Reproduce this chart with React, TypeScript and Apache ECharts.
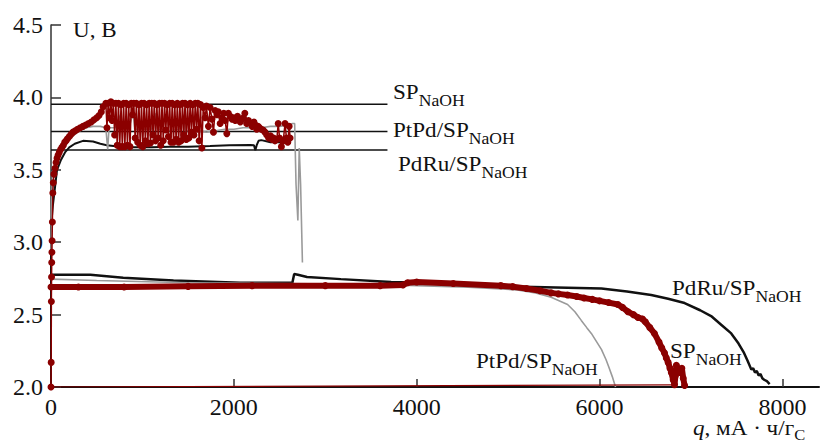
import React, { useEffect, useRef } from "react";
import * as echarts from "echarts";

// q (mA·h/g) , U (V)
const spCharge: number[][] = [
  [0, 2.0], [2, 2.17], [4, 2.59], [6, 2.76], [8, 2.86], [10, 2.93], [12, 3.01], [15, 3.14], [20, 3.34],
  [25, 3.41], [32, 3.47], [44, 3.51], [55, 3.55], [66, 3.58], [77, 3.6], [90, 3.62], [105, 3.64],
  [120, 3.655], [135, 3.67], [150, 3.69], [165, 3.7], [180, 3.715], [200, 3.73], [220, 3.745],
  [241, 3.76], [265, 3.77], [290, 3.78], [320, 3.79], [350, 3.8], [380, 3.81], [410, 3.82], [440, 3.83],
  [470, 3.845], [500, 3.86], [525, 3.875], [550, 3.9], [570, 3.935],
  [600, 3.96], [612, 3.79], [625, 3.96], [640, 3.86], [655, 3.97], [668, 3.84], [682, 3.96], [696, 3.74],
  [710, 3.96], [724, 3.67], [738, 3.96], [752, 3.66], [766, 3.95], [780, 3.66], [794, 3.96], [808, 3.66],
  [822, 3.96], [836, 3.67], [850, 3.95], [864, 3.66], [878, 3.96], [892, 3.88], [906, 3.96], [920, 3.72],
  [934, 3.96], [948, 3.69], [962, 3.95], [976, 3.67], [990, 3.96], [1004, 3.66], [1018, 3.96], [1032, 3.7],
  [1046, 3.95], [1060, 3.68], [1074, 3.96], [1088, 3.685], [1102, 3.96], [1116, 3.74], [1130, 3.96],
  [1144, 3.7], [1158, 3.95], [1172, 3.72], [1186, 3.96], [1200, 3.67], [1214, 3.96], [1228, 3.7],
  [1242, 3.96], [1256, 3.775], [1270, 3.95], [1284, 3.73], [1298, 3.96], [1312, 3.69], [1326, 3.96],
  [1340, 3.69], [1354, 3.95], [1368, 3.71], [1382, 3.96], [1396, 3.69], [1410, 3.95], [1424, 3.7],
  [1438, 3.96], [1452, 3.74], [1466, 3.96], [1480, 3.71], [1494, 3.95], [1508, 3.72], [1522, 3.96],
  [1536, 3.76], [1550, 3.95], [1564, 3.74], [1578, 3.96], [1592, 3.78], [1606, 3.96], [1620, 3.7],
  [1635, 3.95], [1650, 3.65], [1665, 3.93], [1686, 3.86], [1700, 3.94], [1722, 3.8], [1740, 3.93],
  [1760, 3.85], [1777, 3.76], [1795, 3.91], [1815, 3.88], [1830, 3.9], [1850, 3.82], [1870, 3.86],
  [1890, 3.89], [1905, 3.84], [1923, 3.75], [1940, 3.89], [1960, 3.87], [1980, 3.85], [1996, 3.86],
  [2015, 3.84], [2040, 3.87], [2070, 3.83], [2090, 3.85], [2105, 3.86], [2120, 3.89], [2140, 3.82],
  [2160, 3.84], [2180, 3.82], [2200, 3.8], [2220, 3.83], [2235, 3.81], [2250, 3.78], [2265, 3.8],
  [2280, 3.79], [2300, 3.78], [2320, 3.775], [2340, 3.76], [2360, 3.74], [2380, 3.72], [2400, 3.735],
  [2420, 3.71], [2435, 3.72], [2450, 3.7], [2470, 3.71], [2485, 3.82], [2500, 3.72], [2520, 3.66],
  [2540, 3.7], [2560, 3.82], [2575, 3.72], [2590, 3.69], [2605, 3.8], [2615, 3.72],
];

const spDischarge: number[][] = [
  [0, 2.69], [300, 2.69], [800, 2.69], [1500, 2.695], [2200, 2.7], [3000, 2.7], [3600, 2.7], [3850, 2.705],
  [3900, 2.72], [4000, 2.725], [4400, 2.715], [4920, 2.7], [5050, 2.693], [5200, 2.68], [5350, 2.665],
  [5470, 2.65], [5550, 2.643], [5650, 2.635], [5750, 2.625], [5830, 2.615], [5920, 2.605], [6000, 2.595],
  [6100, 2.583], [6200, 2.57], [6250, 2.55], [6310, 2.52], [6370, 2.5], [6420, 2.48], [6470, 2.47],
  [6500, 2.45], [6550, 2.41], [6600, 2.37], [6650, 2.31], [6680, 2.27], [6710, 2.235], [6730, 2.2],
  [6750, 2.17], [6770, 2.13], [6785, 2.1], [6805, 2.05], [6820, 2.015], [6830, 2.08], [6840, 2.15],
  [6860, 2.12], [6880, 2.1], [6900, 2.13], [6915, 2.06], [6930, 2.01],
];

const spReturn: number[][] = [[6820, 2.015], [3000, 2.006], [0, 2.0]];

const ptCharge: number[][] = [
  [0, 2.95], [5, 3.2], [15, 3.4], [40, 3.52], [80, 3.6], [120, 3.65], [175, 3.69], [250, 3.74],
  [318, 3.77], [380, 3.79], [460, 3.8], [540, 3.8], [600, 3.79], [620, 3.64], [635, 3.79], [700, 3.79],
  [760, 3.88], [775, 3.79], [850, 3.78], [900, 3.9], [915, 3.78], [1000, 3.78], [1100, 3.78],
  [1150, 3.89], [1165, 3.78], [1300, 3.77], [1400, 3.78], [1450, 3.88], [1465, 3.77], [1600, 3.77],
  [1700, 3.76], [1800, 3.77], [1900, 3.78], [2000, 3.78], [2100, 3.79], [2200, 3.79], [2300, 3.79],
  [2400, 3.8], [2500, 3.8], [2600, 3.81], [2640, 3.82], [2665, 3.82], [2680, 3.4], [2700, 3.15],
  [2715, 3.65], [2730, 3.4], [2750, 2.86],
];

const ptDischarge: number[][] = [
  [0, 2.745], [500, 2.735], [1500, 2.72], [2500, 2.715], [3500, 2.71], [4000, 2.7], [4560, 2.69],
  [5100, 2.67], [5300, 2.65], [5470, 2.62], [5650, 2.57], [5730, 2.52], [5800, 2.46], [5860, 2.41],
  [5910, 2.37], [5970, 2.31], [6020, 2.26], [6070, 2.19], [6100, 2.14], [6140, 2.07], [6160, 2.03],
  [6175, 2.0],
];

const pdCharge: number[][] = [
  [0, 2.0], [0, 3.1], [20, 3.25], [44, 3.38], [66, 3.5], [110, 3.57], [153, 3.62], [200, 3.655],
  [260, 3.68], [350, 3.7], [460, 3.695], [540, 3.68], [610, 3.67], [756, 3.66], [900, 3.655],
  [1100, 3.655], [1300, 3.66], [1500, 3.66], [1740, 3.665], [1950, 3.67], [2180, 3.672], [2220, 3.67],
  [2235, 3.635], [2250, 3.67], [2270, 3.7], [2300, 3.705], [2400, 3.69], [2500, 3.69], [2620, 3.685],
];

const pdDischarge: number[][] = [
  [0, 2.775], [430, 2.775], [790, 2.755], [1340, 2.735], [2070, 2.72], [2640, 2.72], [2660, 2.78],
  [2700, 2.775], [2800, 2.76], [3170, 2.745], [3720, 2.725], [4260, 2.72], [4560, 2.7], [5280, 2.69],
  [6020, 2.68], [6300, 2.66], [6565, 2.635], [6750, 2.61], [6930, 2.58], [7100, 2.53], [7220, 2.49],
  [7330, 2.43], [7440, 2.37], [7520, 2.3], [7580, 2.235], [7620, 2.18], [7660, 2.12], [7680, 2.13],
  [7700, 2.1], [7720, 2.11], [7740, 2.08], [7760, 2.09], [7780, 2.06], [7800, 2.05], [7830, 2.04],
  [7860, 2.02],
];

// horizontal reference levels (V) and their extent (q)
const refLevels: number[] = [3.953, 3.764, 3.637];
const refExtent: number[] = [0, 3680];

const xTicks = { min: 0, max: 8400, interval: 2000 };
const yTicks = { min: 2.0, max: 4.5, interval: 0.5 };

const FONT = '"Liberation Serif", "Times New Roman", serif';
const RED = "#8B0000";
const GRAY = "#9a9a9a";
const BLACK = "#111111";
const SX = 1.1;

type Part = { t: string; sub?: boolean; italic?: boolean };

function measure(text: string, font: string): number {
  const c = document.createElement("canvas").getContext("2d");
  if (!c) return text.length * 10;
  c.font = font;
  return c.measureText(text).width;
}

function label(x: number, baseline: number, parts: Part[], size = 21, subSize = 16, subDy = 7): any[] {
  const els: any[] = [];
  let cx = x;
  for (const p of parts) {
    const fs = p.sub ? subSize : size;
    const base = p.sub ? baseline + subDy : baseline;
    const style = p.italic ? "italic" : "normal";
    const w = measure(p.t, `${style} ${fs}px ${FONT}`);
    els.push({
      type: "text",
      x: cx,
      y: base - 0.3375 * fs,
      scaleX: SX,
      style: {
        text: p.t,
        fontFamily: FONT,
        fontSize: fs,
        fontStyle: style,
        fill: BLACK,
        align: "left",
        verticalAlign: "middle",
      },
    });
    cx += w * SX;
  }
  return els;
}

export default function App() {
  const ref = useRef<HTMLDivElement>(null);
  useEffect(() => {
    document.body.style.margin = "0";
    if (!ref.current) return;
    const chart = echarts.init(ref.current, null, { renderer: "svg" });

    const line = (name: string, data: number[][], color: string, width: number, extra: any = {}) => ({
      name,
      type: "line",
      data,
      lineStyle: { color, width },
      itemStyle: { color },
      symbol: "none",
      silent: true,
      ...extra,
    });

    const graphics: any[] = [
      ...label(73, 37, [{ t: "U, B" }]),
      ...label(393, 99, [{ t: "SP" }, { t: "NaOH", sub: true }]),
      ...label(393, 137, [{ t: "PtPd/SP" }, { t: "NaOH", sub: true }]),
      ...label(398, 171, [{ t: "PdRu/SP" }, { t: "NaOH", sub: true }]),
      ...label(672, 295, [{ t: "PdRu/SP" }, { t: "NaOH", sub: true }]),
      ...label(670, 358, [{ t: "SP" }, { t: "NaOH", sub: true }]),
      ...label(476, 368, [{ t: "PtPd/SP" }, { t: "NaOH", sub: true }]),
      ...label(693, 435, [{ t: "q", italic: true }, { t: ", мА · ч/г" }, { t: "C", sub: true }], 21, 15, 5),
    ];

    const axisFont = { color: BLACK, fontFamily: FONT, fontSize: 24 };

    chart.setOption({
      animation: false,
      backgroundColor: "#ffffff",
      grid: { left: 51, right: 2, top: 25, bottom: 58, containLabel: false },
      xAxis: {
        type: "value",
        min: xTicks.min,
        max: xTicks.max,
        interval: xTicks.interval,
        axisLine: { show: true, onZero: false, lineStyle: { color: BLACK, width: 2 } },
        axisTick: { show: true, inside: true, length: 8, lineStyle: { color: "#333", width: 1.5 } },
        axisLabel: { ...axisFont, margin: 8, formatter: (v: number) => String(v) },
        splitLine: { show: false },
      },
      yAxis: {
        type: "value",
        min: yTicks.min,
        max: yTicks.max,
        interval: yTicks.interval,
        axisLine: { show: true, onZero: false, lineStyle: { color: "#333", width: 1.5 } },
        axisTick: { show: true, inside: true, length: 10, lineStyle: { color: "#333", width: 1.5 } },
        axisLabel: { ...axisFont, margin: 8, formatter: (v: number) => v.toFixed(1) },
        splitLine: { show: false },
      },
      graphic: graphics,
      series: [
        ...refLevels.map((v, i) =>
          line("ref" + i, [[refExtent[0], v], [refExtent[1], v]], BLACK, 1.5)
        ),
        line("PdRu charge", pdCharge, BLACK, 2),
        line("PdRu discharge", pdDischarge, BLACK, 2.5),
        line("PtPd charge", ptCharge, GRAY, 1.6),
        line("PtPd discharge", ptDischarge, GRAY, 1.6),
        line("SP return", spReturn, RED, 1.2),
        line("SP discharge", spDischarge, RED, 6, { symbol: "circle", symbolSize: 7, showAllSymbol: true }),
        line("SP charge", spCharge, RED, 1.5, { symbol: "circle", symbolSize: 7, showAllSymbol: true }),
      ],
    });
    return () => chart.dispose();
  }, []);
  return (
    <div
      ref={ref}
      style={{ position: "absolute", left: 0, top: 0, width: 821, height: 445 }}
    />
  );
}
